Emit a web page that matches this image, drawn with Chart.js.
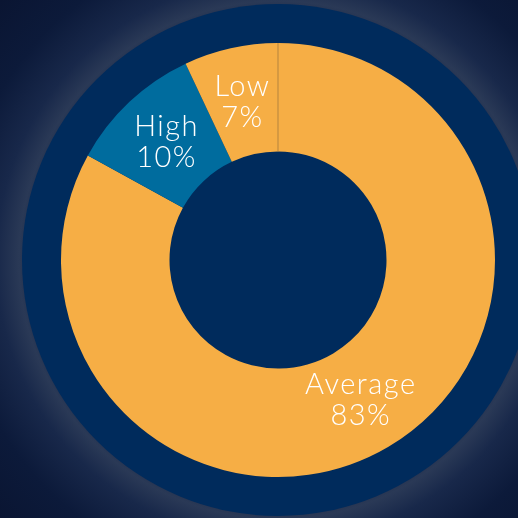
<!DOCTYPE html>
<html lang="en">
<head>
    <meta charset="UTF-8">
    <title>Rating split</title>
    <script src="https://cdn.jsdelivr.net/npm/chart.js"></script>
    <style>
        html, body {
            margin: 0;
            width: 518px;
            height: 518px;
            overflow: hidden;
        }
        body {
            background: radial-gradient(circle at 278px 260px, #0c1d44 0px, #1e2d4c 245px, #2a3956 259px, #18284a 282px, #0c1a3a 325px, #0a1532 100%);
        }
        #ring {
            position: absolute;
            left: 22px;
            top: 4px;
            width: 512px;
            height: 512px;
            border-radius: 50%;
            background: #002b5c;
        }
        #chartContainer {
            position: absolute;
            left: 22px;
            top: 4px;
            width: 512px;
            height: 512px;
        }
    </style>
</head>
<body>
    <div id="ring"></div>
    <div id="chartContainer">
        <canvas id="ratingChart" width="512" height="512"></canvas>
    </div>
    <script>
        const categories = ['Average', 'High', 'Low'];
        const shares = [83, 10, 7];
        const colors = ['#f6ae45', '#006c9e', '#f6ae45'];

        // labels in the middle of each slice, two lines
        const sliceLabels = {
            id: 'sliceLabels',
            afterDatasetsDraw(chart) {
                const ctx = chart.ctx;
                const meta = chart.getDatasetMeta(0);
                ctx.save();
                // thin seam where Low meets Average
                const first = meta.data[0];
                const a = first.startAngle;
                ctx.strokeStyle = '#b5843e';
                ctx.lineWidth = 1;
                ctx.beginPath();
                ctx.moveTo(first.x + Math.cos(a) * first.innerRadius, first.y + Math.sin(a) * first.innerRadius);
                ctx.lineTo(first.x + Math.cos(a) * first.outerRadius, first.y + Math.sin(a) * first.outerRadius);
                ctx.stroke();

                ctx.fillStyle = '#ffffff';
                ctx.font = '300 29px Lato, "DejaVu Sans", sans-serif';
                ctx.letterSpacing = '1.5px';
                ctx.textAlign = 'center';
                ctx.textBaseline = 'middle';
                meta.data.forEach((arc, i) => {
                    const p = arc.tooltipPosition();
                    ctx.fillText(categories[i], p.x, p.y - 15);
                    ctx.fillText(shares[i] + '%', p.x, p.y + 16);
                });
                ctx.restore();
            }
        };

        new Chart(document.getElementById('ratingChart'), {
            type: 'doughnut',
            data: {
                labels: categories,
                datasets: [{
                    data: shares,
                    backgroundColor: colors,
                    borderWidth: 0
                }]
            },
            options: {
                responsive: false,
                animation: false,
                radius: 217,
                cutout: '50%',
                layout: { padding: 0 },
                plugins: {
                    legend: { display: false },
                    tooltip: { enabled: false }
                }
            },
            plugins: [sliceLabels]
        });
    </script>
</body>
</html>
